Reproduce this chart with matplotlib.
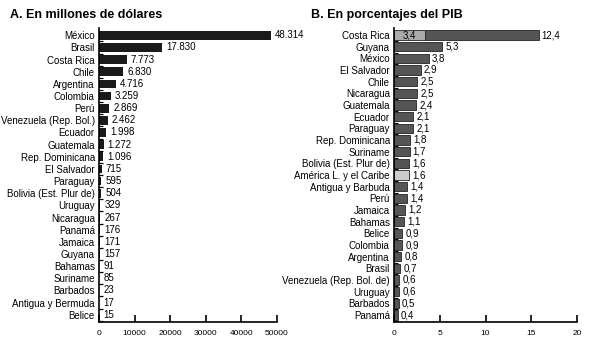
import matplotlib.pyplot as plt
import numpy as np

plt.rcParams['font.family'] = ['Liberation Sans', 'DejaVu Sans']

# Panel A: millones de dólares
paises_a = ["México", "Brasil", "Costa Rica", "Chile", "Argentina", "Colombia", "Perú",
            "Venezuela (Rep. Bol.)", "Ecuador", "Guatemala", "Rep. Dominicana", "El Salvador",
            "Paraguay", "Bolivia (Est. Plur de)", "Uruguay", "Nicaragua", "Panamá", "Jamaica",
            "Guyana", "Bahamas", "Suriname", "Barbados", "Antigua y Bermuda", "Belice"]
valores_a = [48314, 17830, 7773, 6830, 4716, 3259, 2869, 2462, 1998, 1272, 1096, 715,
             595, 504, 329, 267, 176, 171, 157, 91, 85, 23, 17, 15]

# Panel B: porcentajes del PIB
paises_b = ["Costa Rica", "Guyana", "México", "El Salvador", "Chile", "Nicaragua", "Guatemala",
            "Ecuador", "Paraguay", "Rep. Dominicana", "Suriname", "Bolivia (Est. Plur de)",
            "América L. y el Caribe", "Antigua y Barbuda", "Perú", "Jamaica", "Bahamas", "Belice",
            "Colombia", "Argentina", "Brasil", "Venezuela (Rep. Bol. de)", "Uruguay", "Barbados",
            "Panamá"]
valores_b = [12.4, 5.3, 3.8, 2.9, 2.5, 2.5, 2.4, 2.1, 2.1, 1.8, 1.7, 1.6, 1.6, 1.4, 1.4,
             1.2, 1.1, 0.9, 0.9, 0.8, 0.7, 0.6, 0.6, 0.5, 0.4]
costa_rica_extra = 3.4

W, H = 601, 341
fig = plt.figure(figsize=(W / 100, H / 100), dpi=100)

def fmt_miles(v):
    return f"{v:,}".replace(",", ".")

def estilo(ax, n, xmax, xticks):
    ax.set_xlim(0, xmax)
    ax.set_ylim(n - 1 + 0.6, -0.6)
    for s in ["top", "right"]:
        ax.spines[s].set_visible(False)
    ax.spines["left"].set_linewidth(1.2)
    ax.spines["bottom"].set_linewidth(1.2)
    ax.set_xticks(xticks)
    ax.tick_params(axis="x", direction="in", length=5, width=1.2, labelsize=6, pad=6)
    ax.tick_params(axis="y", which="major", length=0, labelsize=7, pad=3)
    ax.set_yticks(np.arange(n) + 0.5, minor=True)
    ax.tick_params(axis="y", which="minor", direction="in", length=3, width=0.9)

# Panel A
n_a = len(paises_a)
ax1 = fig.add_axes([99 / W, (H - 322) / H, (277 - 99) / W, (322 - 28) / H])
y_a = np.arange(n_a)
ax1.barh(y_a, valores_a, height=0.72, color="#1a1a1a")
ax1.set_yticks(y_a)
ax1.set_yticklabels(paises_a)
estilo(ax1, n_a, 50000, [0, 10000, 20000, 30000, 40000, 50000])
for y, v in zip(y_a, valores_a):
    ax1.text(v + 1200, y, fmt_miles(v), va="center", ha="left", fontsize=7, clip_on=False)
fig.text(10 / W, 1 - 15 / H, "A. En millones de dólares", fontsize=9, fontweight="bold",
         va="center", ha="left")

# Panel B
n_b = len(paises_b)
ax2 = fig.add_axes([394 / W, (H - 322) / H, (577 - 394) / W, (322 - 28) / H])
y_b = np.arange(n_b)
colores = ["#cccccc" if p.startswith("América") else "#555555" for p in paises_b]
izq = [costa_rica_extra if p == "Costa Rica" else 0 for p in paises_b]
ax2.barh(y_b, valores_b, left=izq, height=0.78, color=colores, edgecolor="#222222", linewidth=0.6)
ax2.barh(0, costa_rica_extra, height=0.78, color="#aaaaaa", edgecolor="#222222", linewidth=0.6)
ax2.text(costa_rica_extra / 2, 0, "3,4", va="center", ha="center", fontsize=7)
ax2.set_yticks(y_b)
ax2.set_yticklabels(paises_b)
estilo(ax2, n_b, 20, [0, 5, 10, 15, 20])
for y, v, l in zip(y_b, valores_b, izq):
    ax2.text(l + v + 0.35, y, f"{v:.1f}".replace(".", ","), va="center", ha="left", fontsize=7)
fig.text(311 / W, 1 - 15 / H, "B. En porcentajes del PIB", fontsize=9, fontweight="bold",
         va="center", ha="left")

fig.savefig("out.png", dpi=100)
